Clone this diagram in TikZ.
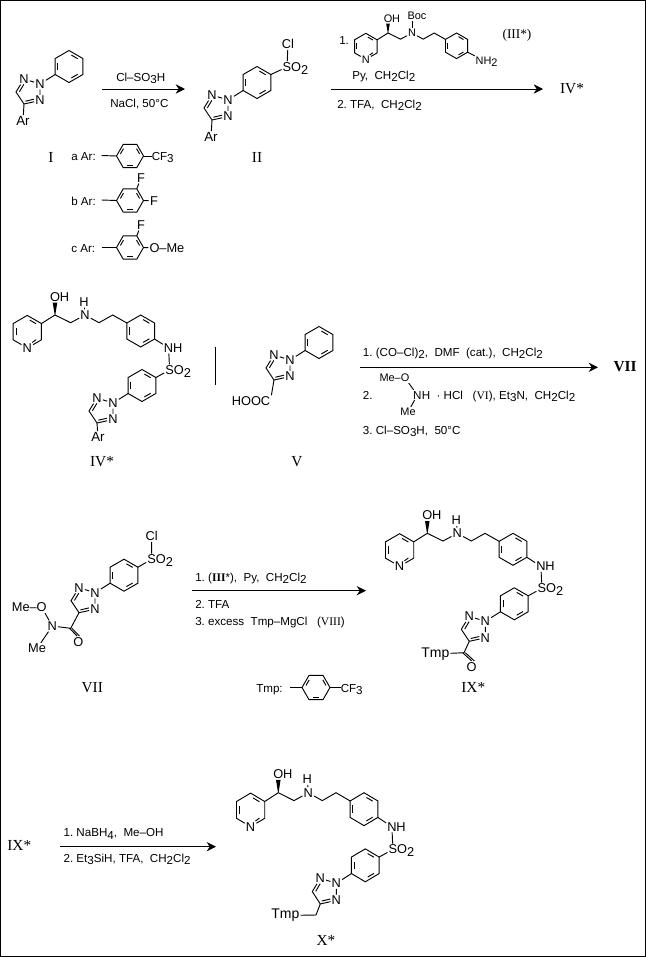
\documentclass[tikz,border=0pt]{standalone}
\usepackage{fontspec}
\setmainfont{Liberation Sans}
\newfontfamily\romf{Liberation Serif}
\usetikzlibrary{arrows.meta}
\newcommand\lo[1]{\raisebox{-.4ex}{#1}}
\tikzset{
 bond/.style={draw=black,line width=0.7pt},
 lab/.style={font=\fontsize{9.6}{11}\selectfont,inner sep=0.7pt},
 arlab/.style={font=\fontsize{10}{12}\selectfont,inner sep=0.7pt},
 tmplab/.style={font=\fontsize{10.5}{12}\selectfont,inner sep=0.7pt},
 smalllab/.style={font=\fontsize{8.2}{10}\selectfont,inner sep=0.7pt},
 txt/.style={font=\fontsize{8.7}{10}\selectfont,inner sep=0pt,anchor=base west},
 rom/.style={font=\romf\fontsize{11.5}{13}\selectfont,inner sep=0pt},
 arr/.style={draw=black,line width=0.7pt,-{Stealth[length=7pt,width=7pt]}},
 tightR/.style={anchor=base west,inner xsep=0pt,outer sep=0pt,xshift=-0.95pt},
 tightL/.style={anchor=base east,inner xsep=0pt,outer sep=0pt,xshift=0.95pt},
}
% pointy-top benzene/pyridine ring with named vertices
\newcommand\hexV[4]{% prefix x y r
 \begin{scope}[shift={(#2,#3)},scale=#4]
  \coordinate (#1-rt) at (-30:1); \coordinate (#1-rb) at (30:1);
  \coordinate (#1-lb) at (150:1); \coordinate (#1-lt) at (210:1);
  \draw[bond] (-90:1) -- (-30:1) -- (30:1) -- (90:1) -- (150:1) -- (210:1) -- cycle;
  \foreach \a in {-90,30,150}{\draw[bond] (\a+12:.728) -- (\a+48:.728);}
 \end{scope}}
\newcommand\pyr[5]{% prefix x y r labelstyle
 \begin{scope}[shift={(#2,#3)},scale=#4]
  \coordinate (#1-rt) at (-30:1);
  \node[#5] (#1-N) at (90:1) {N};
  \draw[bond] (30:1) -- (#1-N) -- (150:1) -- (210:1) -- (-90:1) -- (-30:1) -- (30:1);
  \draw[bond] (-78:.728) -- (-42:.728);
  \draw[bond] (162:.728) -- (198:.728);
  \draw[bond] (42:.728) -- (66:.728);
 \end{scope}}
% flat-top ring for the Ar and Tmp groups
\newcommand\hexF[4]{% prefix x y r
 \begin{scope}[shift={(#2,#3)},scale=#4]
  \coordinate (#1-L) at (180:1); \coordinate (#1-R) at (0:1); \coordinate (#1-UR) at (300:1);
  \draw[bond] (0:1) -- (60:1) -- (120:1) -- (180:1) -- (240:1) -- (300:1) -- cycle;
  \foreach \a in {300,60,180}{\draw[bond] (\a+12:.728) -- (\a+48:.728);}
 \end{scope}}
% triazole at N2 (x,y) + para-phenylene ring
\newcommand\triaz[3]{% prefix x y
 \begin{scope}[shift={(#2,#3)}]
  \node[lab] (#1-N2) at (0,0) {N};
  \node[lab] (#1-N1) at (-16,-5) {N};
  \node[lab] (#1-N3) at (0,16.5) {N};
  \coordinate (#1-C5) at (-24,8);
  \coordinate (#1-C4) at (-16,20);
  \draw[bond] (#1-N2) -- (#1-N1) -- (#1-C5) -- (#1-C4) -- (#1-N3) -- (#1-N2);
  \draw[bond] (-16.2,0.4) -- (-20.6,7.8);
  \draw[bond] (-14.6,17.2) -- (-6,15.2);
  \hexV{#1-ar}{29}{-17.5}{16}
  \draw[bond] (#1-N2) -- (#1-ar-lb);
 \end{scope}}
% pyridyl-CH(OH)-CH2-N-CH2CH2-C6H4 part, origin at CH(OH)
\newcommand\head[6]{% prefix x y xscale yscale labelstyle
 \begin{scope}[shift={(#2,#3)},xscale=#4,yscale=#5]
  \pyr{#1-py}{-27.7}{16.7}{16.3}{#6}
  \coordinate (#1-CH) at (0,0);
  \node[#6] (#1-O) at (0,-18) {O};
  \node[#6,tightR] (#1-OH) at (#1-O.base east) {H};
  \coordinate (#1-C1) at (15.7,7.7);
  \node[#6] (#1-NA) at (30,0) {N};
  \coordinate (#1-C2) at (44,7.7);
  \coordinate (#1-C3) at (57.7,0);
  \hexV{#1-ph}{85.7}{16}{16}
  \draw[bond] (#1-py-rt) -- (#1-CH) -- (#1-C1) -- (#1-NA) -- (#1-C2) -- (#1-C3) -- (#1-ph-lt);
  \fill ([xshift=.2pt]#1-CH) -- ([xshift=1.7pt]#1-O.south) -- ([xshift=-1.7pt]#1-O.south) -- ([xshift=-.2pt]#1-CH) -- cycle;
 \end{scope}}
% full sulfonamide molecule (IV, IX, X)
\newcommand\fullmol[5]{% prefix x y xscale yscale
 \head{#1}{#2}{#3}{#4}{#5}{lab}
 \begin{scope}[shift={(#2,#3)},xscale=#4,yscale=#5]
  \node[lab] (#1-HA) at (29,-13) {H};
  \draw[bond] (#1-NA) -- (#1-HA);
  \node[lab] (#1-NB) at (113.6,33) {N};
  \node[lab,tightR] (#1-NBH) at (#1-NB.base east) {H};
  \node[lab] (#1-S) at (114.6,55) {S};
  \node[lab,tightR] (#1-SO) at (#1-S.base east) {O\lo{2}};
  \draw[bond] (#1-ph-rb) -- (#1-NB) -- (#1-S);
  \triaz{#1-t}{58}{88}
  \draw[bond] (#1-t-ar-rt) -- (#1-S);
 \end{scope}}
\begin{document}
\begin{tikzpicture}[x=0.75pt,y=-0.75pt]
\useasboundingbox (0,0) rectangle (646,957);
\fill[white] (0,0) rectangle (646,957);
\draw[black,line width=0.75pt] (0.5,0.5) rectangle (645,956);

% --- I
\triaz{I}{40}{84}
\node[arlab] (I-Ar) at (23,121) {Ar};
\draw[bond] (I-C4) -- (I-Ar);
\node[rom] (lI) at (51,157) {I};
% arrow 1
\coordinate (a1s) at (102,89); \coordinate (a1e) at (185,89);
\draw[arr] (a1s) -- (a1e);
\node[txt] (t1a) at (116,81.5) {Cl–SO\lo{3}H};
\node[txt] (t1b) at (110,107) {NaCl,\ 50°C};
% --- II
\triaz{II}{228}{100}
\node[arlab] (II-Ar) at (211,137) {Ar};
\draw[bond] (II-C4) -- (II-Ar);
\node[lab] (II-S) at (287,67) {S};
\node[lab,tightR] (II-O) at (II-S.base east) {O\lo{2}};
\node[lab] (II-Cl) at (288,44) {Cl};
\draw[bond] (II-ar-rt) -- (II-S) -- (II-Cl);
\node[rom] (lII) at (257,157) {II};
% Ar definitions
\node[txt] (ta) at (71,160) {a\ Ar:};
\coordinate (aS) at (101.7,155.5);
\hexF{a}{130}{156}{13.5}
\draw[bond] (aS) -- (a-L);
\node[txt] (aCF) at (151.5,160) {CF\lo{3}};
\draw[bond] (a-R) -- (aCF.west |- a-R);
\node[txt] (tb) at (71,205) {b\ Ar:};
\coordinate (bS) at (101.7,200);
\hexF{b}{130}{200.5}{13.5}
\draw[bond] (bS) -- (b-L);
\node[lab] (bF1) at (141,178) {F};
\node[lab] (bF2) at (154,201) {F};
\draw[bond] (b-UR) -- (bF1);
\draw[bond] (b-R) -- (bF2);
\node[txt] (tc) at (71,252) {c\ Ar:};
\coordinate (cS) at (101.7,247.5);
\hexF{c}{130}{247.5}{13.5}
\draw[bond] (cS) -- (c-L);
\node[lab] (cF) at (141,225) {F};
\node[lab] (cO) at (154.5,248) {O};
\node[lab,tightR] (cMe) at (cO.base east) {–Me};
\draw[bond] (c-UR) -- (cF);
\draw[bond] (c-R) -- (cO);

% --- III over arrow 2
\node[txt] (t2n) at (339,44) {1.};
\head{III}{388}{33}{0.8}{0.8}{smalllab}
\node[smalllab] (III-B) at (417,16) {Boc};
\draw[bond] (III-NA) -- (III-B.south -| III-NA);
\node[smalllab,anchor=west] (III-NH) at (474.5,62) {NH\lo{2}};
\draw[bond] (III-ph-rb) -- (III-NH);
\node[rom,font=\romf\fontsize{10}{12}\selectfont] (lIII) at (517,35) {(III*)};
\node[txt] (t2a) at (352,79) {Py,\ \ CH\lo{2}Cl\lo{2}};
\coordinate (a2s) at (331,89); \coordinate (a2e) at (543,89);
\draw[arr] (a2s) -- (a2e);
\node[txt] (t2b) at (337,108) {2.\ TFA,\ \ CH\lo{2}Cl\lo{2}};
\node[rom] (lIV1) at (572,88.5) {IV*};

% --- IV*
\fullmol{IV}{55}{315}{1}{1}
\node[arlab] (IV-Ar) at (98,437) {Ar};
\draw[bond] (IV-t-C4) -- (IV-Ar);
\node[rom] (lIV) at (102,461.5) {IV*};
% separator
\coordinate (sepA) at (215,346.5); \coordinate (sepB) at (215,385);
\draw[bond] (sepA) -- (sepB);
% --- V
\triaz{V}{290}{360}
\node[lab] (V-H) at (251,401) {HOOC};
\draw[bond] (V-C4) -- (V-H.north east);
\node[rom] (lV) at (297,461.5) {V};
% arrow 3
\node[txt] (t3a) at (362.7,356) {1.\ (CO–Cl)\lo{2},\ \ DMF\ \ (cat.),\ \ CH\lo{2}Cl\lo{2}};
\coordinate (a3s) at (360,367.3); \coordinate (a3e) at (598,367.3);
\draw[arr] (a3s) -- (a3e);
\node[rom,font=\romf\bfseries\fontsize{11.5}{13}\selectfont] (lVII1) at (625,366.5) {VII};
\node[txt] (t3b) at (362.7,399) {2.};
\node[smalllab] (t3O) at (405,378) {O};
\node[smalllab,tightL] (t3Me) at (t3O.base west) {Me–};
\node[txt,inner sep=0.7pt] (t3N) at (412,399) {N};
\node[txt,xshift=-0.9pt] (t3c) at (t3N.base east) {H\ \ ·\ HCl\ \ \ ({\romf VI}),\ Et\lo{3}N,\ \ CH\lo{2}Cl\lo{2}};
\node[smalllab] (t3Me2) at (408,412) {Me};
\draw[bond] (t3O) -- (t3N);
\draw[bond] (t3N) -- (t3Me2);
\node[txt] (t3d) at (362.7,434) {3.\ Cl–SO\lo{3}H,\ \ 50°C};

% --- VII
\triaz{VII}{95}{592.7}
\node[lab] (VII-S) at (151.7,559.3) {S};
\node[lab,tightR] (VII-SO) at (VII-S.base east) {O\lo{2}};
\node[lab] (VII-Cl) at (151.7,536) {Cl};
\draw[bond] (VII-ar-rt) -- (VII-S) -- (VII-Cl);
\coordinate (VII-CO) at (70.7,628.3);
\node[lab] (VII-Ox) at (78.3,641.7) {O};
\node[lab] (VII-Nm) at (52.3,626) {N};
\node[lab] (VII-Om) at (41.7,607.3) {O};
\node[lab,tightL] (VII-Me1) at (VII-Om.base west) {Me–};
\node[lab] (VII-Me2) at (37,648.5) {Me};
\draw[bond] (VII-C4) -- (VII-CO) -- (VII-Nm) -- (VII-Om);
\draw[bond] (VII-Nm) -- (VII-Me2);
\draw[bond] ([xshift=-0.9pt]VII-CO) -- ([xshift=-0.9pt]VII-Ox.north);
\draw[bond] ([xshift=0.9pt]VII-CO) -- ([xshift=0.9pt]VII-Ox.north);
\node[rom] (lVII) at (92.3,687.5) {VII};
% arrow 4
\node[txt] (t4a) at (195,581) {1.\ ({\romf\bfseries III}*),\ \ Py,\ \ CH\lo{2}Cl\lo{2}};
\coordinate (a4s) at (191.7,590.7); \coordinate (a4e) at (366,590.7);
\draw[arr] (a4s) -- (a4e);
\node[txt] (t4b) at (195,608) {2.\ TFA};
\node[txt] (t4c) at (195,625) {3.\ excess\ \ Tmp–MgCl\ \ \ ({\romf VIII})};
% Tmp definition
\node[txt] (tT) at (256,692) {Tmp:};
\coordinate (tS) at (290,687.5);
\hexF{T}{316}{687.5}{14}
\draw[bond] (tS) -- (T-L);
\node[txt] (TCF) at (340.5,692) {CF\lo{3}};
\draw[bond] (T-R) -- (TCF.west |- T-R);

% --- IX*
\fullmol{IX}{427.3}{533.3}{1}{1}
\coordinate (IX-CO) at (464,652.7);
\node[tmplab,anchor=east] (IX-Tmp) at (450.5,654) {Tmp};
\node[lab] (IX-Ox) at (471.7,666.7) {O};
\draw[bond] (IX-t-C4) -- (IX-CO) -- (IX-Tmp);
\draw[bond] ([xshift=-1pt]IX-CO) -- ([xshift=0pt]IX-Ox.north);
\draw[bond] ([xshift=1pt]IX-CO) -- ([xshift=2pt]IX-Ox.north);
\node[rom] (lIX) at (473.3,687.5) {IX*};

% --- last step
\node[rom] (lIX2) at (19.3,845) {IX*};
\node[txt] (t5a) at (63.3,836.7) {1.\ NaBH\lo{4},\ \ Me–OH};
\coordinate (a5s) at (60,846.7); \coordinate (a5e) at (216,846.7);
\draw[arr] (a5s) -- (a5e);
\node[txt] (t5b) at (63.3,862) {2.\ Et\lo{3}SiH,\ TFA,\ \ CH\lo{2}Cl\lo{2}};

% --- X*
\fullmol{X}{278.3}{792.7}{1}{1.03}
\coordinate (X-CH2) at (316,915);
\node[tmplab,anchor=east] (X-Tmp) at (300.5,915.5) {Tmp};
\draw[bond] (X-t-C4) -- (X-CH2) -- (X-Tmp);
\node[rom] (lX) at (326,940.5) {X*};
\end{tikzpicture}
\end{document}
